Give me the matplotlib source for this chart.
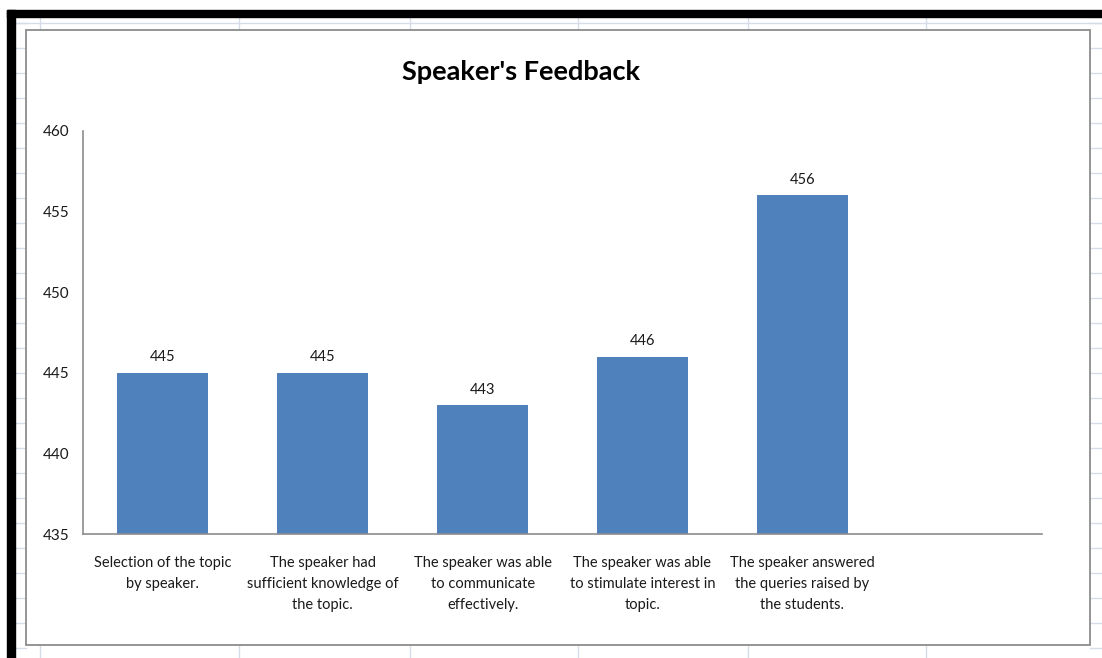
import matplotlib
matplotlib.use("Agg")
import matplotlib.pyplot as plt
from matplotlib.lines import Line2D
from matplotlib.patches import Rectangle

categories = [
    "Selection of the topic\nby speaker.",
    "The speaker had\nsufficient knowledge of\nthe topic.",
    "The speaker was able\nto communicate\neffectively.",
    "The speaker was able\nto stimulate interest in\ntopic.",
    "The speaker answered\nthe queries raised by\nthe students.",
    "",
]
values = [445, 445, 443, 446, 456]
yticks = [435, 440, 445, 450, 455, 460]
title = "Speaker's Feedback"

plt.rcParams['font.family'] = ['Lato', 'DejaVu Sans']

W, H = 1102, 658
fig = plt.figure(figsize=(W / 100, H / 100), dpi=100)
fig.patch.set_facecolor("white")

grid_c = "#d6dce8"
# spreadsheet grid background (decoration)
for y in range(23, 660, 25):
    for x0, x1 in [(15, 26), (1090, 1102)]:
        fig.add_artist(Line2D([x0 / W, x1 / W], [1 - y / H, 1 - y / H],
                              color=grid_c, lw=1, transform=fig.transFigure, zorder=-5))
for x in [40, 239, 410, 578, 748, 926]:
    for y0, y1 in [(17, 30), (645, 658)]:
        fig.add_artist(Line2D([x / W, x / W], [1 - y0 / H, 1 - y1 / H],
                              color=grid_c, lw=1, transform=fig.transFigure, zorder=-5))
fig.add_artist(Line2D([15 / W, 1], [1 - 23 / H, 1 - 23 / H], color=grid_c, lw=1,
                      transform=fig.transFigure, zorder=-5))
# black frame strips
fig.add_artist(Rectangle((7 / W, 0), 8 / W, 1 - 10 / H, color="black",
                         transform=fig.transFigure, zorder=-4))
fig.add_artist(Rectangle((7 / W, 1 - 17 / H), 1, 7 / H, color="black",
                         transform=fig.transFigure, zorder=-4))
# chart area box
fig.add_artist(Rectangle((26 / W, 1 - 645 / H), (1090 - 26) / W, (645 - 30) / H,
                         facecolor="white", edgecolor="#8c8c8c", lw=1.3,
                         transform=fig.transFigure, zorder=-3))

ax = fig.add_axes([83 / W, 1 - 534 / H, (1042 - 83) / W, (534 - 131) / H])
ax.set_zorder(5)
ax.set_facecolor("none")
x = list(range(len(categories)))
bars = ax.bar(x[:len(values)], values, width=0.57, color="#4F81BD", zorder=2)
ax.set_xlim(-0.5, len(categories) - 0.5)
ax.set_ylim(yticks[0], yticks[-1])
ax.set_yticks(yticks)
ax.set_xticks(x)
ax.set_xticklabels(categories, fontsize=10.5, color="#1a1a1a", linespacing=1.62)
ax.tick_params(axis="both", length=0)
ax.tick_params(axis="y", labelsize=11, pad=10, colors="#1a1a1a")
ax.tick_params(axis="x", pad=16)
for s in ["top", "right"]:
    ax.spines[s].set_visible(False)
for s in ["left", "bottom"]:
    ax.spines[s].set_color("#8c8c8c")
    ax.spines[s].set_linewidth(1.2)

for b, v in zip(bars, values):
    ax.annotate(str(v), (b.get_x() + b.get_width() / 2, v), xytext=(0, 6),
                textcoords="offset points", ha="center", va="bottom",
                fontsize=10.5, color="#1a1a1a")

fig.text(521 / W, 1 - 72 / H, title, ha="center", va="center",
         fontsize=19.5, fontweight="bold", color="black", zorder=6)

fig.savefig("out.png", dpi=100)
